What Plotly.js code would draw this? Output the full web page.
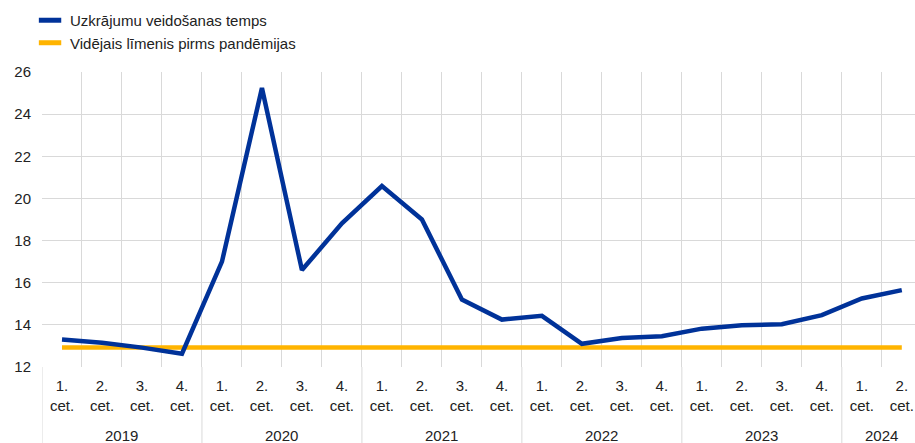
<!DOCTYPE html>
<html>
<head>
<meta charset="utf-8">
<script src="https://cdn.plot.ly/plotly-3.0.1.min.js"></script>
<style>html,body{margin:0;padding:0;background:#fff;}#chart{width:915px;height:443px;}</style>
</head>
<body>
<div id="chart"></div>
<script>
// Data
const years = ["2019","2019","2019","2019","2020","2020","2020","2020","2021","2021","2021","2021","2022","2022","2022","2022","2023","2023","2023","2023","2024","2024"];
const quarters = ["1.","2.","3.","4.","1.","2.","3.","4.","1.","2.","3.","4.","1.","2.","3.","4.","1.","2.","3.","4.","1.","2."];
const savingRate = [13.30,13.15,12.92,12.63,17.0,25.24,16.6,18.82,20.59,19.0,15.2,14.25,14.43,13.1,13.38,13.46,13.82,13.98,14.03,14.46,15.25,15.65];
const preCovidAvg = 12.93;
const seriesNames = ["Uzkrājumu veidošanas temps","Vidējais līmenis pirms pandēmijas"];
const quarterSuffix = "cet.";

const xPos = years.map((y,i)=> i);
const tickText = quarters.map(q => q + "<br>" + quarterSuffix);
const avgLine = xPos.map(()=>preCovidAvg);

const blue = "#003299", orange = "#FFB400", grid = "#d9d9d9", txt = "#222222";

const traces = [
  {x: xPos, y: avgLine, type:"scatter", mode:"lines", line:{color:orange, width:4.5}, showlegend:false, hoverinfo:"skip"},
  {x: xPos, y: savingRate, type:"scatter", mode:"lines", line:{color:blue, width:4.5}, showlegend:false, hoverinfo:"skip"},
  {x:[null], y:[null], type:"scatter", mode:"markers", name:seriesNames[0], marker:{symbol:"line-ew", size:16, color:blue, line:{color:blue, width:5}}},
  {x:[null], y:[null], type:"scatter", mode:"markers", name:seriesNames[1], marker:{symbol:"line-ew", size:16, color:orange, line:{color:orange, width:5}}}
];

// Year groups
const yearList = [...new Set(years)];
const annotations = [];
const shapes = [];
yearList.forEach(y => {
  const idx = years.map((v,i)=>v===y?i:-1).filter(i=>i>=0);
  const first = idx[0], last = idx[idx.length-1];
  annotations.push({x:(first+last)/2, xref:"x", y:-0.2337, yref:"paper", text:y, showarrow:false, yanchor:"middle", xanchor:"center", font:{size:15, color:txt, family:"Liberation Sans, Arial, sans-serif"}});
  shapes.push({type:"line", xref:"x", yref:"paper", x0:first-0.5, x1:first-0.5, y0:0, y1:-0.3, line:{color:grid, width:1}});
});

const layout = {
  width:915, height:443,
  margin:{l:41.7, r:0, t:72.3, b:76.3},
  paper_bgcolor:"#fff", plot_bgcolor:"#fff",
  font:{family:"Liberation Sans, Arial, sans-serif", size:15, color:txt},
  xaxis:{type:"linear", range:[-0.5, 21.33], tickmode:"array", tickvals:xPos, ticktext:tickText,
         showgrid:false, ticks:"outside", ticklen:5, tickcolor:"rgba(0,0,0,0)",
         minor:{tick0:-0.5, dtick:1, showgrid:true, gridcolor:grid, gridwidth:1, ticks:""},
         showline:false, zeroline:false, fixedrange:true, tickfont:{size:15}},
  yaxis:{range:[12,26], dtick:2, tick0:12, showgrid:true, gridcolor:grid, gridwidth:1, ticks:"", zeroline:false, showline:false,
         ticklabelstandoff:10, fixedrange:true, tickfont:{size:15}},
  showlegend:true,
  legend:{x:-0.0137, xanchor:"left", y:0.991, yref:"container", yanchor:"top", bgcolor:"rgba(0,0,0,0)", font:{size:15, color:txt}, tracegroupgap:0},
  annotations:annotations,
  shapes:shapes
};

Plotly.newPlot("chart", traces, layout, {displayModeBar:false, staticPlot:true});
</script>
</body>
</html>
